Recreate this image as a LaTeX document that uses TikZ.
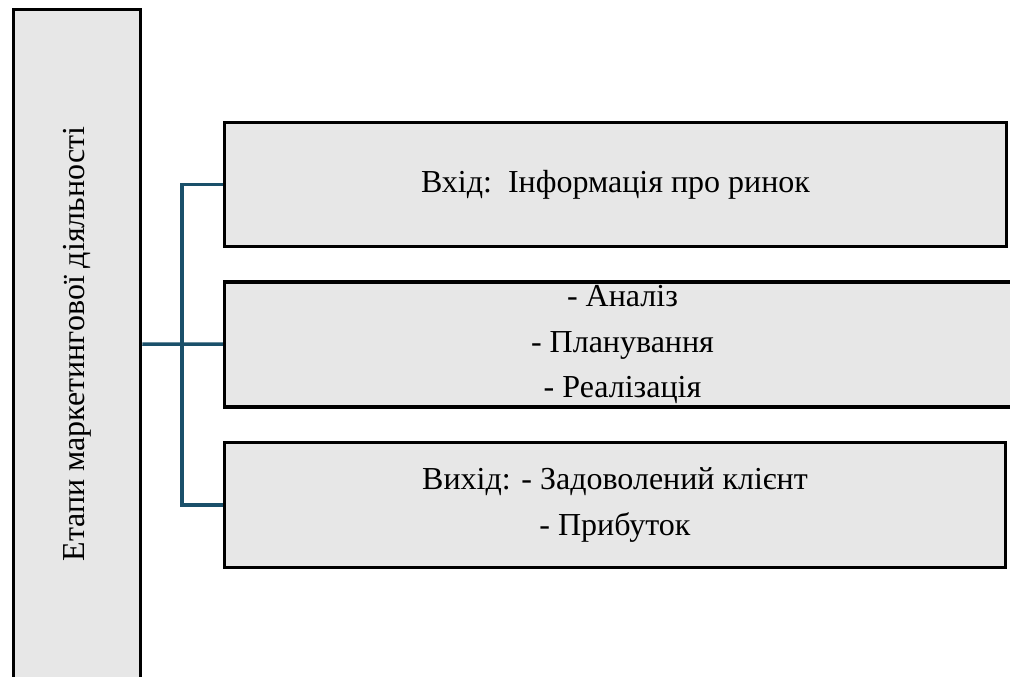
\documentclass[tikz,border=0pt]{standalone}
\usepackage{fontspec}
\setmainfont{Liberation Serif}
\usepackage{tikz}
\usepackage{xcolor}
\usetikzlibrary{positioning}

\definecolor{linkblue}{RGB}{26,80,106}
\definecolor{boxgray}{RGB}{231,231,231}

\tikzset{
  stage/.style={draw=black, line width=3.5pt, fill=boxgray, align=center,
    inner sep=0pt, minimum width=782pt, minimum height=124pt},
  link/.style={draw=linkblue, line width=3.5pt, line join=miter}
}

\begin{document}
\begin{tikzpicture}[x=1pt, y=-1pt, font=\fontsize{32}{45.5}\selectfont]
\useasboundingbox (0,0) rectangle (1010,677);

% Vertical title box
\node[stage, rotate=90, minimum width=669pt, minimum height=127pt] (stages) at (77,344) {Етапи маркетингової діяльності};

% Stage boxes
\node[stage] (entry) at (615.5,184.5) {Вхід:\ \ Інформація про ринок};
\node[stage, below=32pt of entry.south west, anchor=north west, minimum width=796pt, minimum height=125pt] (process) {- Аналіз\\- Планування\\- Реалізація};
\node[stage, below=32pt of process.south west, anchor=north west, minimum width=781pt, minimum height=125pt] (exit) {Вихід: - Задоволений клієнт\\- Прибуток};

% Connectors
\draw[link] (stages) -- (process);
\draw[link] (entry.west) -- ++(-41pt,0) |- (exit.west);
\end{tikzpicture}
\end{document}
